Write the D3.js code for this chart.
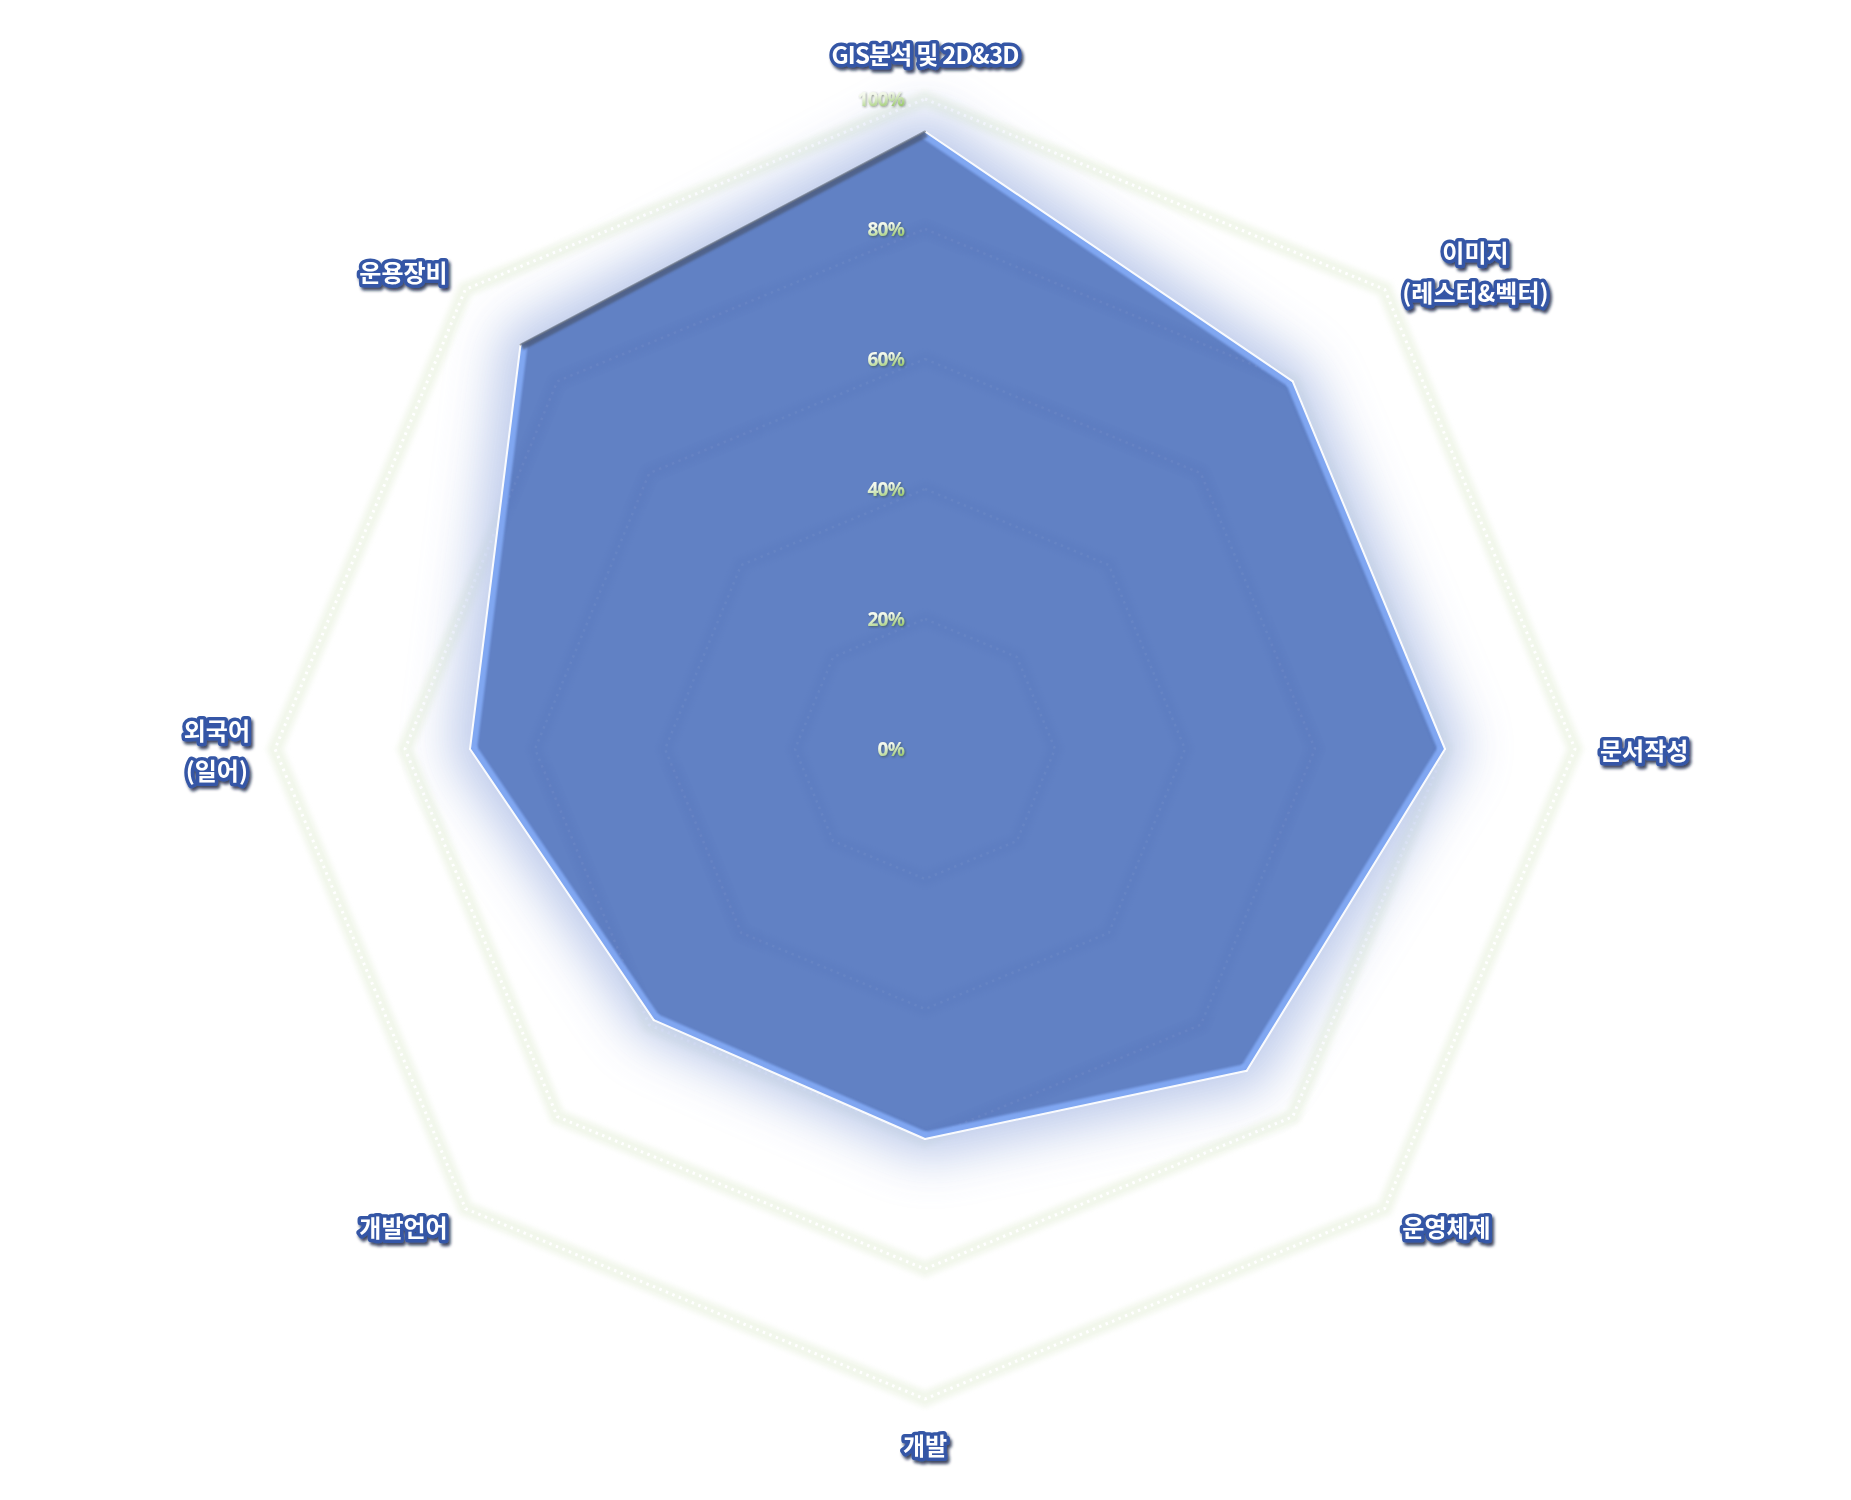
<!DOCTYPE html>
<html><head><meta charset="utf-8">
<script src="https://cdn.jsdelivr.net/npm/d3@7"></script>
<style>body{margin:0;background:#fff}svg{display:block}</style>
</head><body>
<svg id="c" width="1851" height="1500"></svg>
<script>
// ---- data ----
const categories = [
  ["GIS분석 및 2D&3D"],
  ["이미지", "(레스터&벡터)"],
  ["문서작성"],
  ["운영체제"],
  ["개발"],
  ["개발언어"],
  ["외국어", "(일어)"],
  ["운용장비"]
];
const values = [0.95, 0.80, 0.80, 0.70, 0.60, 0.59, 0.70, 0.88];
const ticks = [0, 0.2, 0.4, 0.6, 0.8, 1.0];
const tickLabels = ["0%", "20%", "40%", "60%", "80%", "100%"];

// ---- layout ----
const W = 1851, H = 1500, cx = 925, cy = 749, R = 650;
const n = categories.length;
const svg = d3.select("#c");
const rScale = d3.scaleLinear().domain([0, 1]).range([0, R]);
const aScale = d3.scaleLinear().domain([0, n]).range([0, 2 * Math.PI]);
const radial = d3.lineRadial()
  .angle((d, i) => aScale(i))
  .radius(d => rScale(d))
  .curve(d3.curveLinearClosed);
const pt = (v, i) => {
  const a = aScale(i) - Math.PI / 2;
  return [cx + rScale(v) * Math.cos(a), cy + rScale(v) * Math.sin(a)];
};

const defs = svg.append("defs");
const glow = defs.append("filter").attr("id", "glow").attr("x", "-30%").attr("y", "-30%").attr("width", "160%").attr("height", "160%");
glow.append("feGaussianBlur").attr("stdDeviation", 24);
const soft = defs.append("filter").attr("id", "soft").attr("x", "-20%").attr("y", "-20%").attr("width", "140%").attr("height", "140%");
soft.append("feGaussianBlur").attr("stdDeviation", 2.5);
const soft2 = defs.append("filter").attr("id", "soft2").attr("x", "-20%").attr("y", "-20%").attr("width", "140%").attr("height", "140%");
soft2.append("feGaussianBlur").attr("stdDeviation", 1.2);

const ls = defs.append("filter").attr("id", "lshadow").attr("x", "-20%").attr("y", "-40%").attr("width", "140%").attr("height", "180%");
ls.append("feGaussianBlur").attr("in", "SourceAlpha").attr("stdDeviation", 1.8).attr("result", "b");
ls.append("feOffset").attr("in", "b").attr("dx", 2).attr("dy", 3).attr("result", "o");
ls.append("feFlood").attr("flood-color", "#0e1a3c").attr("flood-opacity", 0.8).attr("result", "f");
ls.append("feComposite").attr("in", "f").attr("in2", "o").attr("operator", "in").attr("result", "s");
const lm = ls.append("feMerge");
lm.append("feMergeNode").attr("in", "s");
lm.append("feMergeNode").attr("in", "SourceGraphic");

const ts = defs.append("filter").attr("id", "tshadow").attr("x", "-20%").attr("y", "-40%").attr("width", "140%").attr("height", "180%");
ts.append("feGaussianBlur").attr("in", "SourceAlpha").attr("stdDeviation", 0.8).attr("result", "b");
ts.append("feOffset").attr("in", "b").attr("dx", 1).attr("dy", 1).attr("result", "o");
ts.append("feFlood").attr("flood-color", "#2a3c20").attr("flood-opacity", 0.5).attr("result", "f");
ts.append("feComposite").attr("in", "f").attr("in2", "o").attr("operator", "in").attr("result", "s");
const tm = ts.append("feMerge");
tm.append("feMergeNode").attr("in", "s");
tm.append("feMergeNode").attr("in", "SourceGraphic");

const tg = defs.append("linearGradient").attr("id", "tgrad").attr("x1", 0).attr("y1", 0).attr("x2", 0.3).attr("y2", 1);
tg.append("stop").attr("offset", "0%").attr("stop-color", "#ffffff");
tg.append("stop").attr("offset", "45%").attr("stop-color", "#f0f7e6");
tg.append("stop").attr("offset", "100%").attr("stop-color", "#8fc25e");

const g = svg.append("g").attr("transform", `translate(${cx},${cy})`);

// ---- grid rings ----
const ringVals = ticks.filter(t => t > 0);
const rings = g.append("g");
ringVals.forEach(t => {
  const d = radial(Array(n).fill(t));
  rings.append("path").attr("d", d).attr("fill", "none")
    .attr("stroke", "#e9f1df").attr("stroke-width", 16)
    .attr("filter", "url(#soft)").attr("opacity", 0.55);
  rings.append("path").attr("d", d).attr("fill", "none")
    .attr("stroke", "#f2f7ec").attr("stroke-width", 9);
  rings.append("path").attr("d", d).attr("fill", "none")
    .attr("stroke", "#ffffff").attr("stroke-width", 3).attr("stroke-dasharray", "2.5 4.5");
});

// ---- data polygon ----
const dPath = radial(values);
g.append("path").attr("d", dPath).attr("fill", "#afbfe4").attr("opacity", 0.9)
  .attr("stroke", "#bac8ea").attr("stroke-width", 42).attr("stroke-linejoin", "round")
  .attr("filter", "url(#glow)");
defs.append("clipPath").attr("id", "polyclip").append("path")
  .attr("d", dPath).attr("transform", `translate(${cx},${cy})`);
g.append("path").attr("d", dPath).attr("fill", "#6181c4");

// rings seen through the polygon
const inner = svg.append("g").attr("clip-path", "url(#polyclip)")
  .append("g").attr("transform", `translate(${cx},${cy})`);
ringVals.forEach(t => {
  const d = radial(Array(n).fill(t));
  inner.append("path").attr("d", d).attr("fill", "none")
    .attr("stroke", "#3f5ea8").attr("stroke-width", 14).attr("opacity", 0.08)
    .attr("filter", "url(#soft)");
  inner.append("path").attr("d", d).attr("fill", "none")
    .attr("stroke", "#ffffff").attr("stroke-width", 2.5).attr("opacity", 0.05)
    .attr("stroke-dasharray", "2.5 4.5");
});

// bevel edges
const pts = values.map((v, i) => pt(v, i));
const bevel = svg.append("g").attr("clip-path", "url(#polyclip)");
const outline = svg.append("g");
pts.forEach((p, i) => {
  const q = pts[(i + 1) % n];
  const ex = q[0] - p[0], ey = q[1] - p[1], L = Math.hypot(ex, ey);
  let nx = ey / L, ny = -ex / L;
  const mx = (p[0] + q[0]) / 2 - cx, my = (p[1] + q[1]) / 2 - cy;
  if (nx * mx + ny * my < 0) { nx = -nx; ny = -ny; }
  const dark = Math.max(0, -ny) * (nx < 0 ? 1 : 0.55);
  const line = d3.line()([p, q]);
  if (dark > 0.5) {
    bevel.append("path").attr("d", line).attr("stroke", "#4a5672")
      .attr("stroke-width", nx < 0 ? 12 : 8).attr("opacity", nx < 0 ? 0.7 : 0.45)
      .attr("filter", "url(#soft2)");
  } else {
    bevel.append("path").attr("d", line).attr("stroke", "#82a9f4")
      .attr("stroke-width", 14).attr("opacity", 0.95).attr("filter", "url(#soft2)");
  }
  outline.append("path").attr("d", line)
    .attr("stroke", (dark > 0.5 && nx < 0) ? "#6e7888" : "#ffffff")
    .attr("stroke-width", 2).attr("stroke-linecap", "round")
    .attr("opacity", (dark > 0.5 && nx < 0) ? 0.7 : 0.95);
});

// ---- tick labels ----
const tickG = svg.append("g");
ticks.forEach((t, i) => {
  tickG.append("text")
    .attr("x", cx - 21).attr("y", cy - rScale(t))
    .attr("text-anchor", "end").attr("dominant-baseline", "central")
    .attr("font-family", "'Noto Sans', 'DejaVu Sans', sans-serif")
    .attr("font-weight", 700).attr("font-size", 19)
    .attr("letter-spacing", -0.8)
    .attr("fill", "url(#tgrad)").attr("filter", "url(#tshadow)")
    .text(tickLabels[i]);
});

// ---- category labels ----
const labG = svg.append("g");
const pad = 25, lineH = 40;
categories.forEach((lines, i) => {
  const a = aScale(i) - Math.PI / 2;
  const px = cx + (R + pad) * Math.cos(a), py = cy + (R + pad) * Math.sin(a);
  const c = Math.cos(a), s = Math.sin(a);
  const grp = labG.append("g");
  const texts = lines.map(l => grp.append("text")
    .attr("font-family", "'Noto Sans CJK KR', 'Noto Sans', sans-serif")
    .attr("font-weight", 700).attr("font-size", 24)
    .attr("letter-spacing", /[A-Z]/.test(l) ? -0.8 : 0)
    .attr("fill", "#ffffff").attr("stroke", "#3457a6").attr("stroke-width", 7)
    .attr("stroke-linejoin", "round").attr("paint-order", "stroke")
    .attr("text-anchor", "middle").attr("dominant-baseline", "central")
    .attr("filter", "url(#lshadow)")
    .text(l));
  const widths = texts.map(t => t.node().getComputedTextLength());
  const bw = d3.max(widths);
  const bh = lines.length * lineH;
  let mxc;
  if (c > 0.05) mxc = px + bw / 2;
  else if (c < -0.05) mxc = px - bw / 2;
  else mxc = px;
  let top;
  if (s < -0.95) top = py - bh;
  else if (s > 0.95) top = py;
  else top = py - bh / 2;
  texts.forEach((t, k) => t.attr("x", mxc).attr("y", top + lineH * k + lineH / 2 - (s < -0.95 ? 1 : 0)));
});
</script>
</body></html>
